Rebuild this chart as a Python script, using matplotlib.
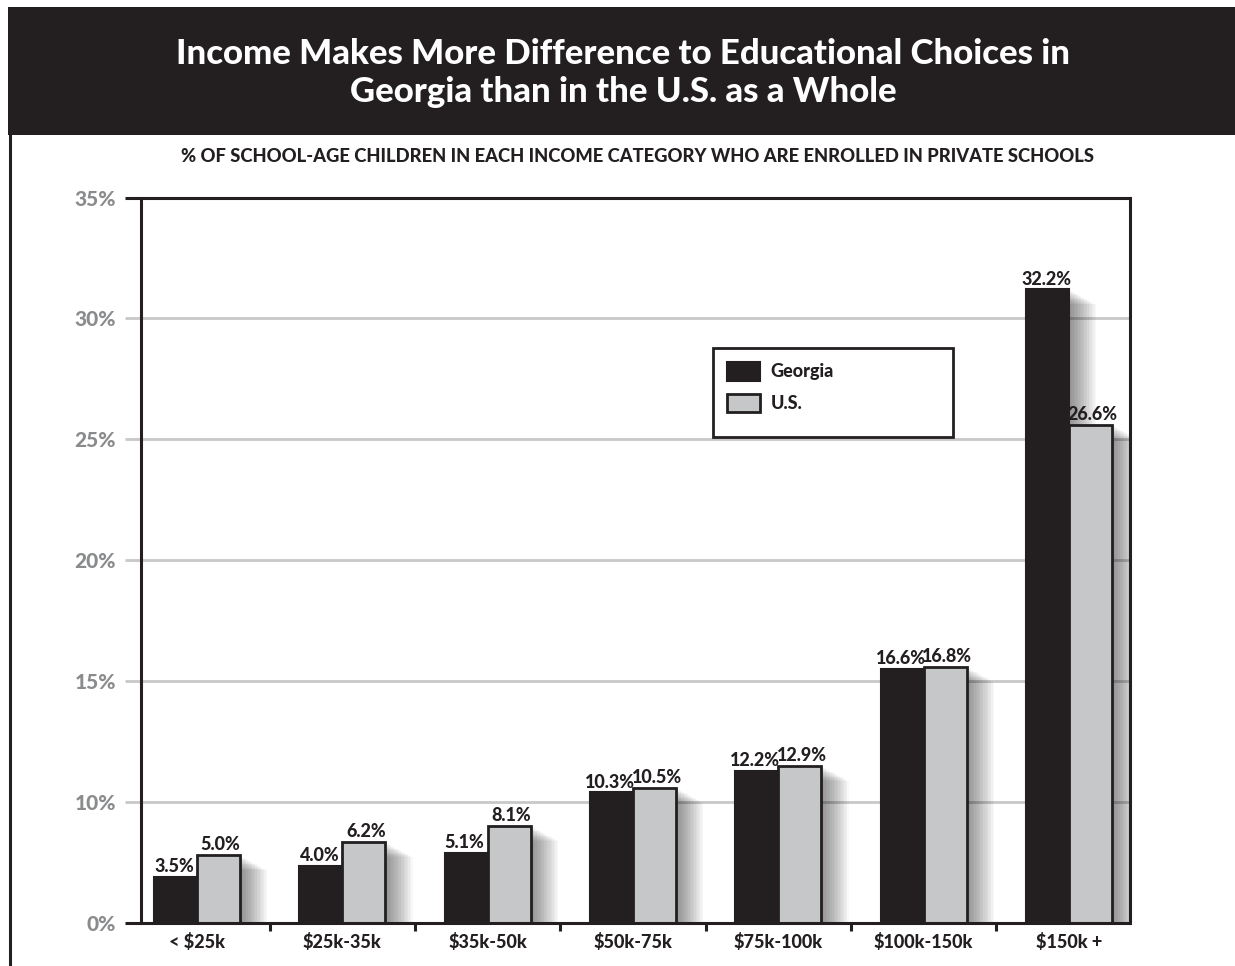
import numpy as np
import matplotlib
matplotlib.use("Agg")
import matplotlib.pyplot as plt
from matplotlib.patches import Rectangle, Patch
from matplotlib.lines import Line2D
import matplotlib.patheffects as pe

# ---------------- data ----------------
categories = ["< $25k", "$25k-35k", "$35k-50k", "$50k-75k", "$75k-100k", "$100k-150k", "$150k +"]
series_names = ["Georgia", "U.S."]
# values printed above the bars
georgia_pct = [3.5, 4.0, 5.1, 10.3, 12.2, 16.6, 32.2]
us_pct = [5.0, 6.2, 8.1, 10.5, 12.9, 16.8, 26.6]
# bar heights as drawn in the picture
georgia_bar = [3.8, 4.7, 5.8, 10.4, 11.3, 15.5, 31.2]
us_bar = [5.6, 6.7, 8.05, 10.6, 11.5, 15.6, 25.6]
ytick_values = [0, 10, 15, 20, 25, 30, 35]
ytick_labels = ["0%", "10%", "15%", "20%", "25%", "30%", "35%"]
title = "Income Makes More Difference to Educational Choices in\nGeorgia than in the U.S. as a Whole"
subtitle = "% OF SCHOOL-AGE CHILDREN IN EACH INCOME CATEGORY WHO ARE ENROLLED IN PRIVATE SCHOOLS"

# ---------------- style ----------------
DARK = "#231f20"
LIGHT = "#c6c7c9"
GRID = "#c8c8c8"
TICKGRAY = "#8a8b8d"
FONT = ["Lato", "DejaVu Sans"]
plt.rcParams["font.family"] = FONT

W, H = 1235, 966
fig = plt.figure(figsize=(W / 100, H / 100), dpi=100)
fig.patch.set_facecolor("white")

def fx(px):
    return px / W

def fy(py):
    return 1 - py / H

# title band
fig.add_artist(Rectangle((fx(8), fy(135)), 1 - fx(8), fy(7) - fy(135),
                         transform=fig.transFigure, facecolor=DARK, edgecolor="none", zorder=0))
fig.add_artist(Line2D([fx(9.5), fx(9.5)], [0, fy(134)], transform=fig.transFigure,
                      color=DARK, lw=2.2))
fig.text(0.5045, fy(73), title, ha="center", va="center", color="white",
         fontsize=25, fontweight="black", linespacing=1.22)
fig.text(0.516, fy(157), subtitle, ha="center", va="center", color=DARK,
         fontsize=13.2, fontweight="black")

# axes
left, right, top, bottom = 141, 1130, 197.5, 923
ax = fig.add_axes([fx(left), fy(bottom), fx(right - left), fy(top) - fy(bottom)])

def fwd(y):
    y = np.asarray(y, dtype=float)
    return np.where(y <= 10, y / 10.0, 1 + (y - 10) / 5.0)

def inv(u):
    u = np.asarray(u, dtype=float)
    return np.where(u <= 1, u * 10.0, 10 + (u - 1) * 5.0)

ax.set_yscale("function", functions=(fwd, inv))
ax.set_ylim(0, 35)
ax.set_xlim(-0.385, 6.42)

x = np.arange(len(categories))
bw = 0.296

shadow = [pe.SimplePatchShadow(offset=(1.1 * k, -0.6 * k), shadow_rgbFace="#000000", alpha=0.028)
          for k in range(1, 19)] + [pe.Normal()]

gb = ax.bar(x - bw / 2, georgia_bar, width=bw, color=DARK, edgecolor=DARK, linewidth=1.5,
            zorder=3, label=series_names[0])
ub = ax.bar(x + bw / 2, us_bar, width=bw, color=LIGHT, edgecolor=DARK, linewidth=2,
            zorder=3, label=series_names[1])
for r in list(gb) + list(ub):
    r.set_path_effects(shadow)

# value labels
for xi, h, v in zip(x - bw / 2, georgia_bar, georgia_pct):
    ax.annotate(f"{v:.1f}%", (xi, h), xytext=(-1, 3.5), textcoords="offset points",
                ha="center", va="baseline", fontsize=13, fontweight="black", color=DARK, zorder=5)
for xi, h, v in zip(x + bw / 2, us_bar, us_pct):
    ax.annotate(f"{v:.1f}%", (xi, h), xytext=(1.5, 3.5), textcoords="offset points",
                ha="center", va="baseline", fontsize=13, fontweight="black", color=DARK, zorder=5)

# gridlines extending left of the axis
ytr = ax.get_yaxis_transform()
ext = -16 / (right - left)
for v in ytick_values:
    if v in (0, 35):
        ax.plot([ext, 1], [v, v], transform=ytr, color=DARK, lw=2.2, clip_on=False, zorder=4,
                solid_capstyle="butt")
    else:
        ax.plot([ext, 1], [v, v], transform=ytr, color=GRID, lw=2, clip_on=False, zorder=1,
                solid_capstyle="butt")

for s in ["top", "bottom"]:
    ax.spines[s].set_visible(False)
for s in ["left", "right"]:
    ax.spines[s].set_color(DARK)
    ax.spines[s].set_linewidth(2.2)
    ax.spines[s].set_zorder(4)

ax.set_yticks(ytick_values, ytick_labels, fontweight="black")
ax.tick_params(axis="y", length=0, pad=18, labelsize=15, labelcolor=TICKGRAY)

ax.set_xticks(x, categories, fontweight="black")
ax.tick_params(axis="x", which="major", length=0, pad=7, labelsize=13, labelcolor=DARK)
ax.set_xticks(x[:-1] + 0.5, minor=True)
ax.tick_params(axis="x", which="minor", length=6, width=2.2, color=DARK, direction="out")

# legend
ax.add_patch(Rectangle((fx(713), fy(437)), fx(953) - fx(713), fy(348) - fy(437),
                       transform=fig.transFigure, facecolor="white", edgecolor=DARK,
                       linewidth=2, zorder=6, clip_on=False))
handles = [Patch(facecolor=DARK, edgecolor=DARK, linewidth=1.5),
           Patch(facecolor=LIGHT, edgecolor=DARK, linewidth=2)]
leg = ax.legend(handles, series_names, loc="upper left", bbox_to_anchor=(fx(727), fy(362)),
                bbox_transform=fig.transFigure, frameon=False, fontsize=13,
                handlelength=1.85, handleheight=1.2, handletextpad=0.55, labelspacing=0.72,
                borderpad=0, borderaxespad=0)
leg.set_zorder(7)
for t in leg.get_texts():
    t.set_fontweight("black")
    t.set_color(DARK)

fig.savefig("out.png", dpi=100, facecolor="white")
